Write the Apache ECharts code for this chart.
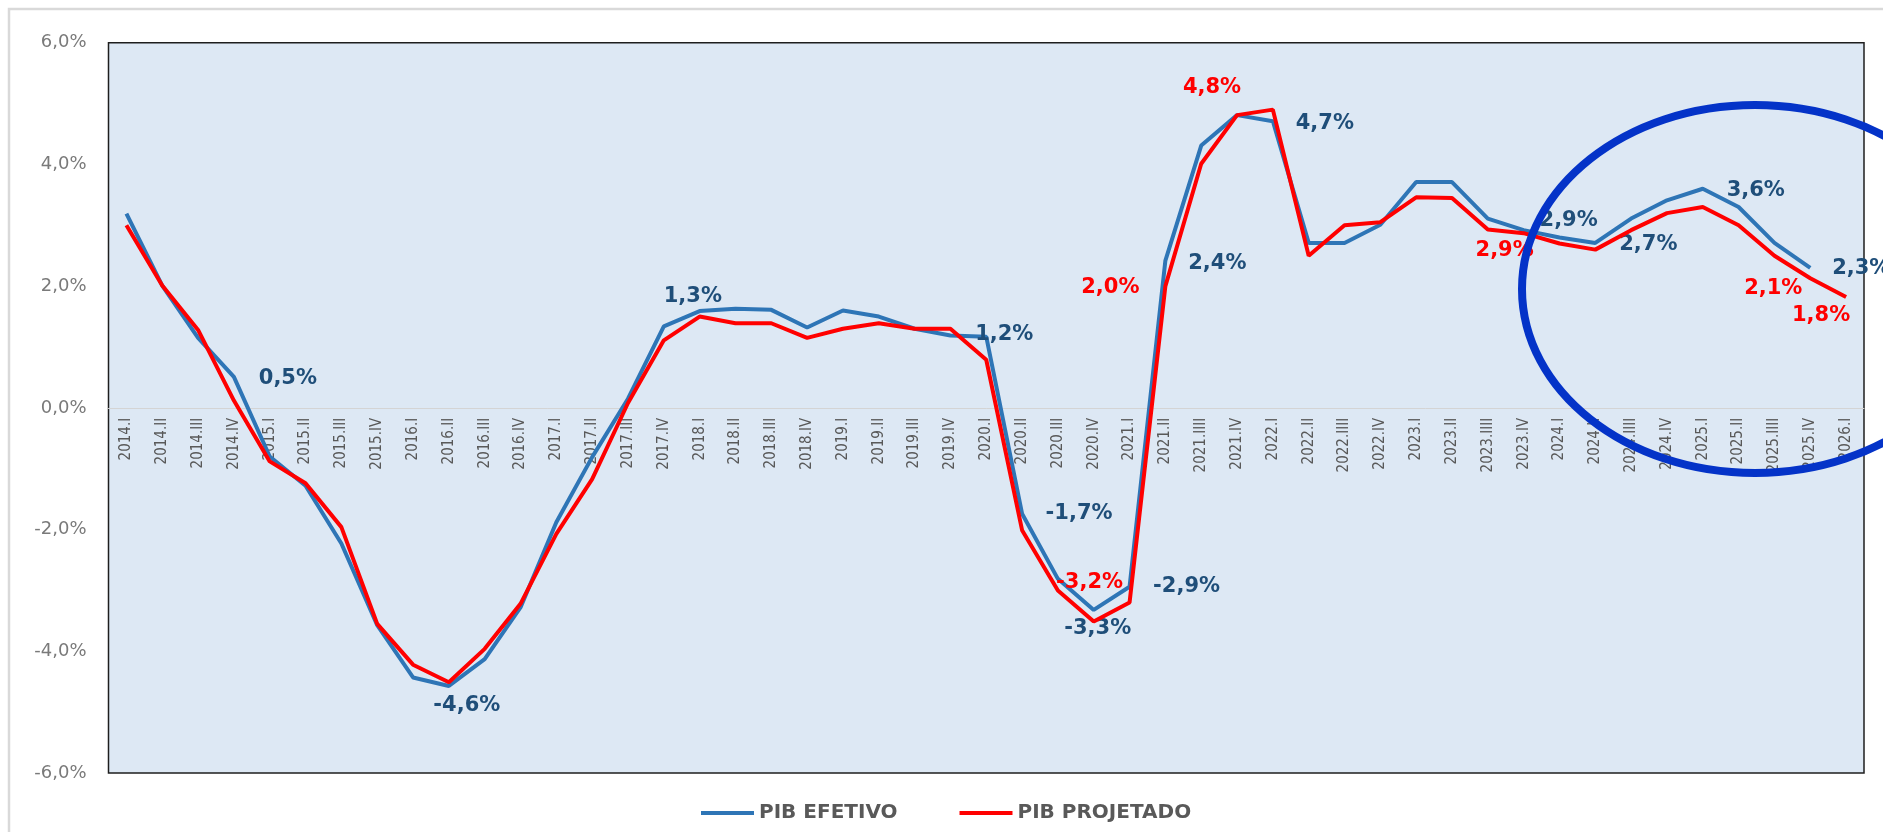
<!DOCTYPE html>
<html>
<head>
<meta charset="utf-8">
<script src="https://cdn.jsdelivr.net/npm/echarts@6/dist/echarts.min.js"></script>
<style>
html,body{margin:0;padding:0;background:#fff;}
#chart{width:1883px;height:832px;}
</style>
</head>
<body>
<div id="chart"></div>
<script>
const categories = [
  '2014.I','2014.II','2014.III','2014.IV',
  '2015.I','2015.II','2015.III','2015.IV',
  '2016.I','2016.II','2016.III','2016.IV',
  '2017.I','2017.II','2017.III','2017.IV',
  '2018.I','2018.II','2018.III','2018.IV',
  '2019.I','2019.II','2019.III','2019.IV',
  '2020.I','2020.II','2020.III','2020.IV',
  '2021.I','2021.II','2021.IIII','2021.IV',
  '2022.I','2022.II','2022.IIII','2022.IV',
  '2023.I','2023.II','2023.IIII','2023.IV',
  '2024.I','2024.II','2024.IIII','2024.IV',
  '2025.I','2025.II','2025.IIII','2025.IV',
  '2026.I'
];
const pibEfetivo = [
  3.19, 2.01, 1.15, 0.51, -0.80, -1.28, -2.23, -3.57, -4.43, -4.57,
  -4.13, -3.28, -1.88, -0.81, 0.15, 1.34, 1.59, 1.63, 1.61, 1.32,
  1.60, 1.50, 1.30, 1.19, 1.17, -1.74, -2.81, -3.32, -2.94, 2.42,
  4.31, 4.81, 4.71, 2.71, 2.71, 3.01, 3.71, 3.71, 3.11, 2.92,
  2.80, 2.71, 3.11, 3.41, 3.60, 3.30, 2.71, 2.30, null
];
const pibProjetado = [
  3.00, 2.01, 1.28, 0.12, -0.88, -1.24, -1.96, -3.55, -4.22, -4.51,
  -3.96, -3.22, -2.07, -1.17, 0.08, 1.11, 1.50, 1.39, 1.39, 1.15,
  1.30, 1.39, 1.30, 1.30, 0.79, -2.01, -3.00, -3.51, -3.20, 2.00,
  4.01, 4.81, 4.90, 2.50, 3.00, 3.05, 3.46, 3.45, 2.93, 2.87,
  2.70, 2.60, 2.92, 3.20, 3.30, 3.00, 2.50, 2.13, 1.82
];
const yTicks = [-6, -4, -2, 0, 2, 4, 6];
const seriesNames = ['PIB EFETIVO', 'PIB PROJETADO'];

// label placement (offsets of label centre from its point), kept apart from the data
const blueLabelOffsets = {3:[54,2], 9:[18,20], 15:[29,-30], 24:[18,-2], 25:[57,0], 27:[4,19], 28:[57,0], 29:[52,3], 32:[52,2], 39:[45,-10], 41:[53,2], 44:[53,2], 47:[51,1]};
const redLabelOffsets = {28:[-40,-20], 29:[-55,1], 31:[-25,-28], 39:[-19,17], 47:[-37,10], 48:[-25,18]};

const fmt = v => v.toFixed(1).replace('.', ',') + '%';

function buildData(values, offsets, color) {
  return values.map((v, i) => {
    const o = offsets[i];
    if (!o || v === null) return v;
    return {
      value: v,
      label: {
        show: true, position: 'inside', offset: o,
        formatter: p => fmt(p.value),
        color: color, fontFamily: 'DejaVu Sans', fontWeight: 'bold', fontSize: 21
      }
    };
  });
}

const GRID_TOP = 42.7, GRID_BOTTOM = 59, H = 832;
const plotBottomY = H - GRID_BOTTOM;
const zeroY = GRID_TOP + (plotBottomY - GRID_TOP) * (yTicks[yTicks.length - 1] / (yTicks[yTicks.length - 1] - yTicks[0]));

const chart = echarts.init(document.getElementById('chart'), null, {renderer: 'canvas'});
chart.setOption({
  animation: false,
  backgroundColor: '#ffffff',
  grid: {
    left: 108.5, right: 19, top: GRID_TOP, bottom: GRID_BOTTOM,
    show: true, backgroundColor: '#dde8f4', borderColor: '#1e1e1e', borderWidth: 1.5,
    containLabel: false
  },
  legend: {
    left: 696, top: 798,
    itemWidth: 53, itemHeight: 4, itemGap: 62,
    icon: 'rect',
    textStyle: {color: '#595959', fontFamily: 'DejaVu Sans', fontWeight: 'bold', fontSize: 20},
    data: seriesNames
  },
  xAxis: {
    type: 'category',
    data: categories,
    boundaryGap: true,
    position: 'bottom',
    offset: -(plotBottomY - zeroY),
    axisLine: {onZero: false, lineStyle: {color: '#d4d4d4', width: 1}},
    axisTick: {show: false},
    axisLabel: {
      interval: 0, rotate: 90, margin: 10,
      color: '#595959', fontSize: 15,
      fontFamily: '"Liberation Sans Narrow", "DejaVu Sans Condensed", "Roboto Condensed", sans-serif'
    },
    splitLine: {show: false}
  },
  yAxis: {
    type: 'value',
    min: yTicks[0], max: yTicks[yTicks.length - 1], interval: 2,
    axisLine: {show: false},
    axisTick: {show: false},
    splitLine: {show: false},
    axisLabel: {
      formatter: v => fmt(v), color: '#7a7a7a', fontSize: 18,
      fontFamily: 'DejaVu Sans', margin: 22
    }
  },
  series: [
    {
      name: seriesNames[0], type: 'line',
      data: buildData(pibEfetivo, blueLabelOffsets, '#1f4e79'),
      symbol: 'circle', symbolSize: 0, showSymbol: true, showAllSymbol: true,
      lineStyle: {color: '#2e75b6', width: 4},
      itemStyle: {color: '#2e75b6'},
      emphasis: {disabled: true},
      label: {show: false},
      z: 3
    },
    {
      name: seriesNames[1], type: 'line',
      data: buildData(pibProjetado, redLabelOffsets, '#ff0000'),
      symbol: 'circle', symbolSize: 0, showSymbol: true, showAllSymbol: true,
      lineStyle: {color: '#ff0000', width: 4},
      itemStyle: {color: '#ff0000'},
      emphasis: {disabled: true},
      label: {show: false},
      z: 4
    }
  ],
  graphic: [
    {
      type: 'rect', z: -10, silent: true,
      shape: {x: 9, y: 9, width: 1900, height: 900},
      style: {fill: null, stroke: '#d9d9d9', lineWidth: 2.5}
    },
    {
      type: 'ellipse', z: 100, silent: true,
      shape: {cx: 1755, cy: 289, rx: 233, ry: 184},
      style: {fill: null, stroke: '#0433c8', lineWidth: 8}
    }
  ]
});
</script>
</body>
</html>
